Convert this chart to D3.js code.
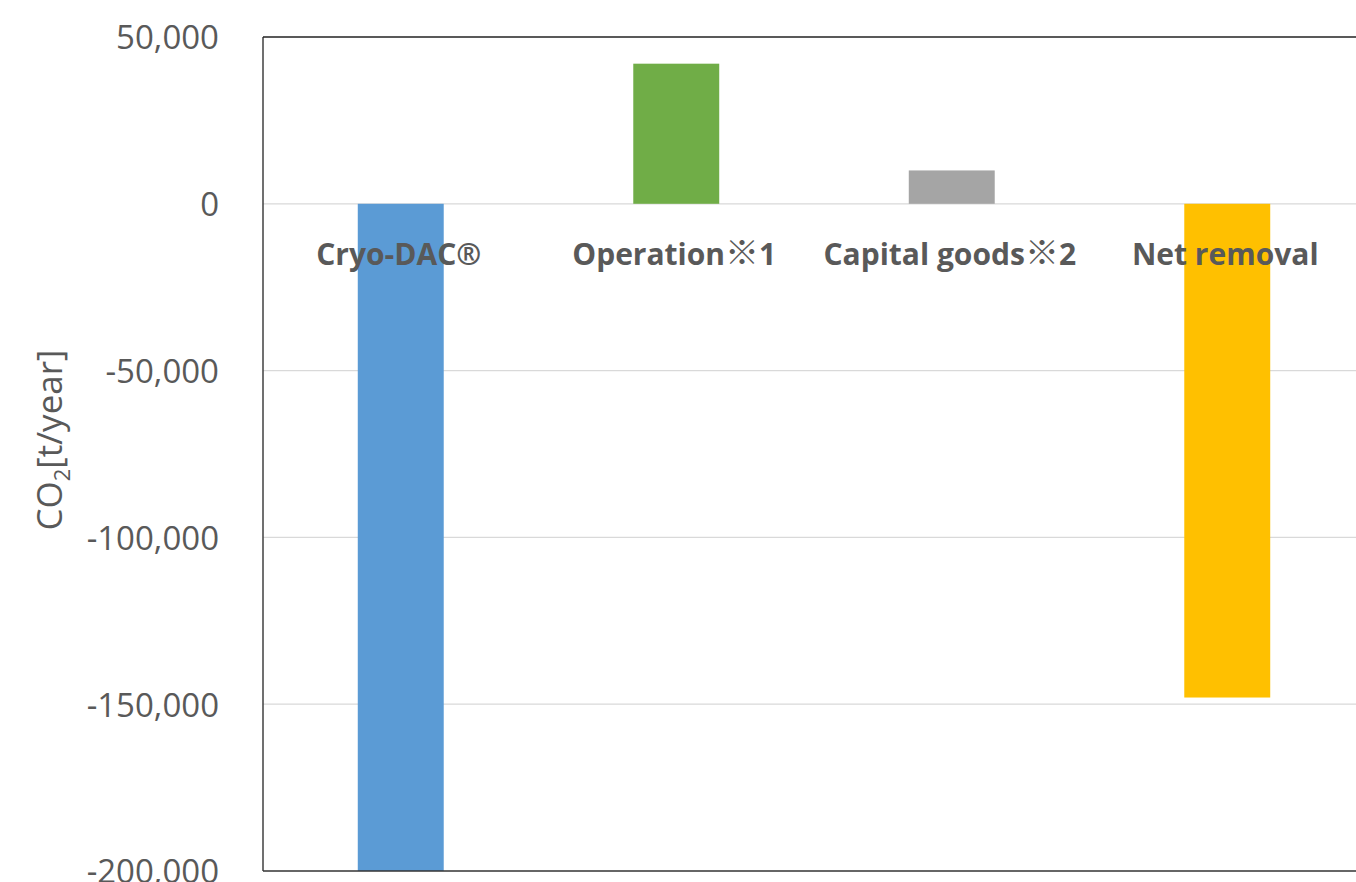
<!DOCTYPE html>
<html><head><meta charset="utf-8">
<script src="https://cdn.jsdelivr.net/npm/d3@7"></script>
<style>html,body{margin:0;padding:0;background:#fff;overflow:hidden}</style>
</head><body>
<svg id="c" width="1356" height="882"></svg>
<script>
const categories = ["Cryo-DAC®", "Operation※1", "Capital goods※2", "Net removal"];
const values = [-200000, 42000, 10000, -148000];
const colors = ["#5B9BD5", "#70AD47", "#A5A5A5", "#FFC000"];
const tickValues = [50000, 0, -50000, -100000, -150000, -200000];

const svg = d3.select("#c");
const L = 263, R = 1365, T = 37, B = 871;
const x = d3.scaleBand().domain(categories).range([L, R]).paddingInner(0.688).paddingOuter(0.344);
const y = d3.scaleLinear().domain([-200000, 50000]).range([B, T]);

// gridlines
svg.append("g").selectAll("line").data(tickValues.filter(v => v < 50000 && v > -200000))
  .join("line").attr("x1", L).attr("x2", R).attr("y1", d => y(d)).attr("y2", d => y(d))
  .attr("stroke", "#d9d9d9").attr("stroke-width", 1.3);

// bars
svg.append("g").selectAll("rect").data(values).join("rect")
  .attr("x", (d, i) => x(categories[i]))
  .attr("width", x.bandwidth())
  .attr("y", d => y(Math.max(0, d)))
  .attr("height", d => Math.abs(y(d) - y(0)))
  .attr("fill", (d, i) => colors[i]);

// frame
svg.append("line").attr("x1", L).attr("x2", L).attr("y1", T).attr("y2", B).attr("stroke", "#404040").attr("stroke-width", 1.5);
svg.append("line").attr("x1", L).attr("x2", R).attr("y1", T).attr("y2", T).attr("stroke", "#222").attr("stroke-width", 1.5);
svg.append("line").attr("x1", L).attr("x2", R).attr("y1", B).attr("y2", B).attr("stroke", "#333").attr("stroke-width", 1.5);

// y axis
const yAxis = d3.axisLeft(y).tickValues(tickValues).tickSize(0).tickPadding(0)
  .tickFormat(d => d3.format(",")(d).replace("−", "-"));
const ga = svg.append("g").attr("transform", `translate(${L - 44},0)`).call(yAxis);
ga.select(".domain").remove();
ga.selectAll("text").attr("fill", "#595959").style("font-family", "'Open Sans', sans-serif").style("font-size", "33px").attr("dy", "0.36em");

// category labels
const lab = svg.append("g").selectAll("text").data(categories).join("text")
  .attr("x", d => x(d) + x.bandwidth() / 2 - 2)
  .attr("y", 265)
  .attr("text-anchor", "middle")
  .attr("fill", "#595959")
  .style("font-family", "'Open Sans', sans-serif")
  .style("font-weight", "bold")
  .style("font-size", "30px");
lab.each(function(d) {
  const parts = d.split(/(※)/);
  const s = d3.select(this);
  parts.forEach(p => {
    if (!p) return;
    const ts = s.append("tspan").text(p);
    if (p === "※") ts.style("font-family", "'Noto Sans CJK JP', sans-serif").style("font-weight", "normal").style("font-size", "34px");
  });
});

// y title
const t = svg.append("text").attr("transform", "translate(62,440) rotate(-90)")
  .attr("text-anchor", "middle").attr("fill", "#595959")
  .style("font-family", "'Open Sans', sans-serif").style("font-size", "35px");
t.append("tspan").text("CO");
t.append("tspan").text("2").style("font-size", "22px").attr("dy", "8");
t.append("tspan").text("[t/year]").attr("dy", "-8");
</script>
</body></html>
